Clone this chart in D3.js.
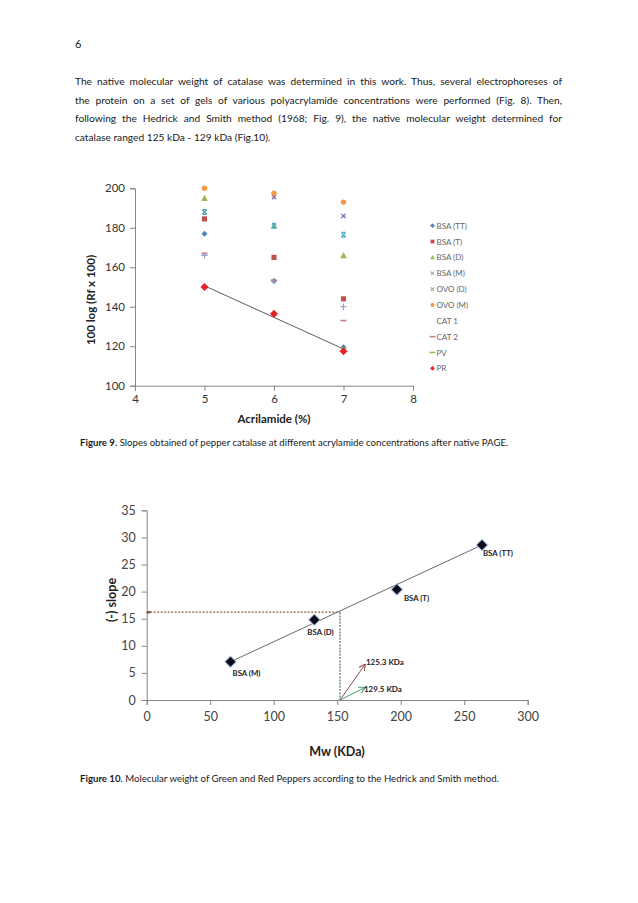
<!DOCTYPE html>
<html><head><meta charset="utf-8">
<script src="https://cdn.jsdelivr.net/npm/d3@7"></script>
<style>
html,body{margin:0;padding:0;background:#fff;}
svg{display:block;font-family:Lato,"Open Sans",sans-serif;}
</style></head>
<body>
<svg id="page" width="638" height="903"></svg>
<script>
// ---------- Data ----------
const pageNumber = "6";
const paragraphLines = [
  "The native molecular weight of catalase was determined in this work. Thus, several electrophoreses of",
  "the protein on a set of gels of various polyacrylamide concentrations were performed (Fig. 8). Then,",
  "following the Hedrick and Smith method (1968; Fig. 9), the native molecular weight determined for",
  "catalase ranged 125 kDa - 129 kDa (Fig.10)."
];

// Figure 9
const acrylamide = [5, 6, 7];
const fig9Series = ["BSA (TT)", "BSA (T)", "BSA (D)", "BSA (M)", "OVO (D)", "OVO (M)", "CAT 1", "CAT 2", "PV", "PR"];
const bsaTT = [177, 153, 119.5];
const bsaT  = [184.5, 165, 144];
const bsaD  = [195, 181, 166];
const bsaM  = [188, 195.5, 186];
const ovoD  = [188, 181, 176.5];
const ovoM  = [200, 197.5, 193];
const cat1  = [166, 153, 140];
const cat2  = [167, 153.5, 133];
const pv    = [150, 136, 119];
const pr    = [150, 136.5, 117.5];
const prTrend = [150.6, 118.6]; // linear trend values at x=5 and x=7
const fig9YTicks = [100, 120, 140, 160, 180, 200];
const fig9XTicks = [4, 5, 6, 7, 8];

// Figure 10
const standards = ["BSA (M)", "BSA (D)", "BSA (T)", "BSA (TT)"];
const standardMw = [66, 132, 197, 264];
const standardSlope = [7.05, 14.8, 20.4, 28.6];
const sampleMw = 152.2;
const sampleSlope = 16.2;
const arrowLabels = ["125.3  KDa", "129.5 KDa"];
const fig10YTicks = [0, 5, 10, 15, 20, 25, 30, 35];
const fig10XTicks = [0, 50, 100, 150, 200, 250, 300];

const svg = d3.select("#page");
const textCol = "#1a1a1a";

// ---------- Page text ----------
svg.append("text").attr("x", 75).attr("y", 48).attr("font-size", 11).attr("fill", textCol).text(pageNumber);
const lineWidth = 487;
paragraphLines.forEach((ln, i) => {
  const t = svg.append("text").attr("x", 75).attr("y", 85 + i * 18.7)
    .attr("font-size", 10.2).attr("fill", textCol).text(ln);
  if (i < paragraphLines.length - 1) {
    const natural = t.node().getComputedTextLength();
    const gaps = ln.split(" ").length - 1;
    t.attr("word-spacing", (lineWidth - natural) / gaps);
  }
});

// ---------- Marker helper ----------
function marker(g, type, color, size) {
  const s = size;
  if (type === "diamond") g.append("path").attr("d", `M0,${-s}L${s},0L0,${s}L${-s},0Z`).attr("fill", color);
  else if (type === "square") g.append("rect").attr("x", -s*0.8).attr("y", -s*0.8).attr("width", s*1.6).attr("height", s*1.6).attr("fill", color);
  else if (type === "triangle") g.append("path").attr("d", `M0,${-s}L${s},${s*0.8}L${-s},${s*0.8}Z`).attr("fill", color);
  else if (type === "x") g.append("path").attr("d", `M${-s*0.7},${-s*0.7}L${s*0.7},${s*0.7}M${-s*0.7},${s*0.7}L${s*0.7},${-s*0.7}`).attr("stroke", color).attr("stroke-width", 1.2);
  else if (type === "star") g.append("path").attr("d", `M${-s*0.7},${-s*0.7}L${s*0.7},${s*0.7}M${-s*0.7},${s*0.7}L${s*0.7},${-s*0.7}M${-s*0.7},${-s*0.8}L${s*0.7},${-s*0.8}M${-s*0.7},${s*0.8}L${s*0.7},${s*0.8}`).attr("stroke", color).attr("stroke-width", 1.2);
  else if (type === "circle") g.append("circle").attr("r", s*0.85).attr("fill", color);
  else if (type === "plus") g.append("path").attr("d", `M${-s},0L${s},0M0,${-s}L0,${s}`).attr("stroke", color).attr("stroke-width", 1.2);
  else if (type === "dash") g.append("path").attr("d", `M${-s},0L${s},0`).attr("stroke", color).attr("stroke-width", 1.6);
}

// ---------- Figure 9 ----------
const f9 = { left: 135, right: 413, top: 188.3, bottom: 385.7 };
const x9 = d3.scaleLinear().domain([4, 8]).range([f9.left, f9.right]);
const y9 = d3.scaleLinear().domain([100, 200]).range([f9.bottom, f9.top]);
const axisCol = "#868686";

const gy9 = svg.append("g").attr("transform", `translate(${f9.left},0)`)
  .call(d3.axisLeft(y9).tickValues(fig9YTicks).tickSize(5).tickPadding(5));
const gx9 = svg.append("g").attr("transform", `translate(0,${f9.bottom})`)
  .call(d3.axisBottom(x9).tickValues(fig9XTicks).tickSize(5).tickPadding(4).tickFormat(d3.format("d")));
[gy9, gx9].forEach(g => {
  g.select(".domain").attr("stroke", axisCol);
  g.selectAll(".tick line").attr("stroke", axisCol);
  g.selectAll(".tick text").attr("font-family", "Lato, sans-serif").attr("font-size", 11.5).attr("fill", "#333");
});

const fig9Data = [bsaTT, bsaT, bsaD, bsaM, ovoD, ovoM, cat1, cat2, pv, pr];
const fig9Types = ["diamond", "square", "triangle", "x", "star", "circle", "plus", "dash", "dash", "diamond"];
const fig9Colors = ["#4F81BD", "#C0504D", "#9BBB59", "#8064A2", "#4BACC6", "#F79646", "#8EA0C8", "#C47C8A", "#9BBB59", "#E8202A"];
const fig9Sizes = [3, 3.2, 3.4, 3, 3, 3.2, 3.2, 3, 3, 4];

// trend line through PR
svg.append("line")
  .attr("x1", x9(acrylamide[0])).attr("y1", y9(prTrend[0]))
  .attr("x2", x9(acrylamide[2])).attr("y2", y9(prTrend[1]))
  .attr("stroke", "#333").attr("stroke-width", 0.8);

fig9Data.forEach((vals, si) => {
  vals.forEach((v, i) => {
    const g = svg.append("g").attr("transform", `translate(${x9(acrylamide[i])},${y9(v)})`);
    marker(g, fig9Types[si], fig9Colors[si], fig9Sizes[si]);
  });
});

// legend
fig9Series.forEach((name, i) => {
  const yy = 225.7 + i * 15.85;
  const g = svg.append("g").attr("transform", `translate(432.5,${yy})`);
  const lt = fig9Types[i];
  const lc = (lt === "x" || lt === "star") ? "#aaa" : fig9Colors[i];
  if (name !== "CAT 1") marker(g, lt === "star" ? "x" : lt, lc, lt === "dash" ? 3 : 2.4);
  svg.append("text").attr("x", 436.5).attr("y", yy + 3).attr("font-size", 8).attr("fill", "#666").text(name);
});

// axis titles
svg.append("text").attr("transform", `translate(95,300) rotate(-90)`)
  .attr("text-anchor", "middle").attr("font-size", 11.5).attr("font-weight", "bold").attr("fill", "#222")
  .text("100 log (Rf x 100)");
svg.append("text").attr("x", 274).attr("y", 423).attr("text-anchor", "middle")
  .attr("font-size", 11.5).attr("font-weight", "bold").attr("fill", "#222").text("Acrilamide (%)");

// caption 9
const c9 = svg.append("text").attr("x", 80).attr("y", 446).attr("font-size", 9.65).attr("fill", textCol);
c9.append("tspan").attr("font-weight", "bold").text("Figure 9.");
c9.append("tspan").text(" Slopes obtained of pepper catalase at different acrylamide concentrations after native PAGE.");

// ---------- Figure 10 ----------
const f10 = { left: 146.7, right: 527.7, top: 510.3, bottom: 700 };
const x10 = d3.scaleLinear().domain([0, 300]).range([f10.left, f10.right]);
const y10 = d3.scaleLinear().domain([0, 35]).range([f10.bottom, f10.top]);

const gy10 = svg.append("g").attr("transform", `translate(${f10.left},0)`)
  .call(d3.axisLeft(y10).tickValues(fig10YTicks).tickSize(5).tickPadding(6));
const gx10 = svg.append("g").attr("transform", `translate(0,${f10.bottom})`)
  .call(d3.axisBottom(x10).tickValues(fig10XTicks).tickSize(5).tickPadding(7));
[gy10, gx10].forEach(g => {
  g.select(".domain").attr("stroke", axisCol);
  g.selectAll(".tick line").attr("stroke", axisCol);
  g.selectAll(".tick text").attr("font-family", "Lato, sans-serif").attr("font-size", 12.5).attr("fill", "#444");
});

// regression line
svg.append("line")
  .attr("x1", x10(standardMw[0])).attr("y1", y10(standardSlope[0]))
  .attr("x2", x10(standardMw[3])).attr("y2", y10(standardSlope[3]))
  .attr("stroke", "#444").attr("stroke-width", 0.8);

// horizontal dashed (brown)
svg.append("line").attr("x1", x10(0)).attr("x2", x10(sampleMw)).attr("y1", y10(sampleSlope)).attr("y2", y10(sampleSlope))
  .attr("stroke", "#8B5A3C").attr("stroke-width", 1.3).attr("stroke-dasharray", "2,1.5");
svg.append("line").attr("x1", x10(0)).attr("x2", x10(3)).attr("y1", y10(sampleSlope)).attr("y2", y10(sampleSlope))
  .attr("stroke", "#8B5A3C").attr("stroke-width", 2.5);
// vertical dashed (green/grey)
svg.append("line").attr("x1", x10(sampleMw)).attr("x2", x10(sampleMw)).attr("y1", y10(sampleSlope)).attr("y2", y10(0))
  .attr("stroke", "#6f8f70").attr("stroke-width", 1.5).attr("stroke-dasharray", "2,1.2");

// standard points
standards.forEach((name, i) => {
  const g = svg.append("g").attr("transform", `translate(${x10(standardMw[i])},${y10(standardSlope[i])})`);
  g.append("path").attr("d", "M0,-6.5L6.5,0L0,6.5L-6.5,0Z").attr("fill", "#8fb3d9").attr("opacity", 0.7);
  g.append("path").attr("d", "M0,-5L5,0L0,5L-5,0Z").attr("fill", "#0b0b1a");
});
const lblOff = [[2, 14], [-7, 15], [7, 12], [1, 11.5]];
standards.forEach((name, i) => {
  svg.append("text").attr("x", x10(standardMw[i]) + lblOff[i][0]).attr("y", y10(standardSlope[i]) + lblOff[i][1])
    .attr("font-size", 7.8).attr("font-weight", "bold").attr("fill", "#222").text(name);
});

// arrows
const defs = svg.append("defs");
[["ah1", "#8B4A55"], ["ah2", "#4A9A70"]].forEach(([id, c]) => {
  defs.append("marker").attr("id", id).attr("viewBox", "0 0 10 10").attr("refX", 9).attr("refY", 5)
    .attr("markerWidth", 7).attr("markerHeight", 7).attr("orient", "auto")
    .append("path").attr("d", "M0,0L10,5L0,10").attr("fill", "none").attr("stroke", c).attr("stroke-width", 1.5);
});
const ox = x10(sampleMw), oy = y10(0);
svg.append("line").attr("x1", ox).attr("y1", oy).attr("x2", ox + 25).attr("y2", oy - 35.5)
  .attr("stroke", "#8B4A55").attr("stroke-width", 1).attr("marker-end", "url(#ah1)");
svg.append("line").attr("x1", ox).attr("y1", oy).attr("x2", ox + 25).attr("y2", oy - 12.5)
  .attr("stroke", "#4A9A70").attr("stroke-width", 1).attr("marker-end", "url(#ah2)");
svg.append("text").attr("x", ox + 26).attr("y", oy - 35).attr("font-size", 8).attr("font-weight", "bold").attr("fill", "#222").text(arrowLabels[0]);
svg.append("text").attr("x", ox + 24).attr("y", oy - 8.5).attr("font-size", 8).attr("font-weight", "bold").attr("fill", "#222").text(arrowLabels[1]);

// axis titles
svg.append("text").attr("transform", `translate(116,600) rotate(-90)`)
  .attr("text-anchor", "middle").attr("font-size", 12.5).attr("font-weight", "bold").attr("fill", "#222").text("(-) slope");
svg.append("text").attr("x", 337).attr("y", 756).attr("text-anchor", "middle")
  .attr("font-size", 12.5).attr("font-weight", "bold").attr("fill", "#222").text("Mw (KDa)");

// caption 10
const c10 = svg.append("text").attr("x", 80).attr("y", 782).attr("font-size", 9.65).attr("fill", textCol);
c10.append("tspan").attr("font-weight", "bold").text("Figure 10.");
c10.append("tspan").text(" Molecular weight of Green and Red Peppers according to the Hedrick and Smith method.");
</script>
</body></html>
